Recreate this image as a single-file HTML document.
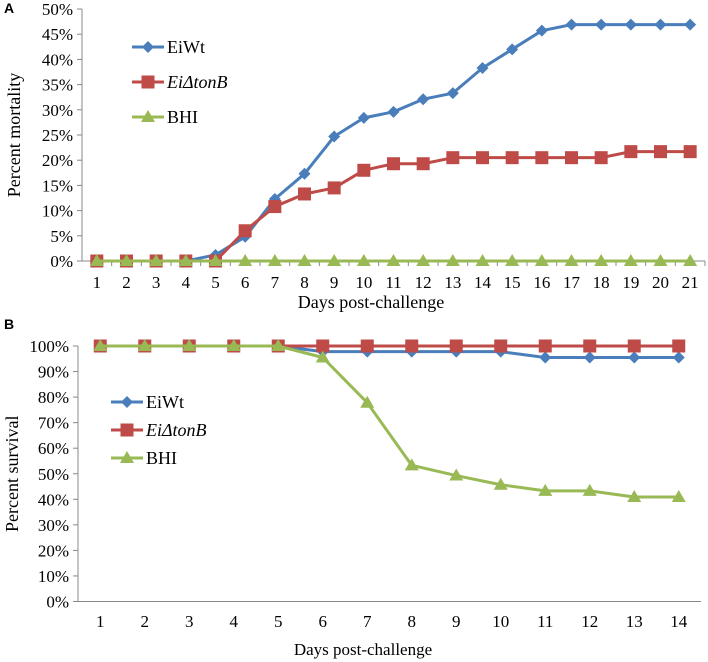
<!DOCTYPE html>
<html><head><meta charset="utf-8"><style>
body{margin:0;background:#fff}
svg{display:block;font-family:"Liberation Serif",serif}
</style></head><body>
<svg id="chart" width="708" height="662"></svg>
<script>
const daysA=[1,2,3,4,5,6,7,8,9,10,11,12,13,14,15,16,17,18,19,20,21];
const wtA=[0,0,0,0,1.2,4.8,12.3,17.3,24.7,28.4,29.6,32.1,33.3,38.3,42,45.7,46.9,46.9,46.9,46.9,46.9];
const tonA=[0,0,0,0,0,6,10.8,13.3,14.5,18,19.3,19.3,20.5,20.5,20.5,20.5,20.5,20.5,21.7,21.7,21.7];
const bhiA=[0,0,0,0,0,0,0,0,0,0,0,0,0,0,0,0,0,0,0,0,0];
const ticksA=[0,5,10,15,20,25,30,35,40,45,50];
const daysB=[1,2,3,4,5,6,7,8,9,10,11,12,13,14];
const wtB=[100,100,100,100,100,97.8,97.8,97.8,97.8,97.8,95.5,95.5,95.5,95.5];
const tonB=[100,100,100,100,100,100,100,100,100,100,100,100,100,100];
const bhiB=[100,100,100,100,100,95.5,77.8,53.3,49.3,45.7,43.3,43.3,40.9,40.9];
const ticksB=[0,10,20,30,40,50,60,70,80,90,100];
const seriesNames=["EiWt","EiΔtonB","BHI"];
const colors=["#4a7ebb","#be4b48","#98b954"];

const svg=document.getElementById('chart');
const NS='http://www.w3.org/2000/svg';
function el(tag,attrs,parent){const e=document.createElementNS(NS,tag);for(const k in attrs)e.setAttribute(k,attrs[k]);(parent||svg).appendChild(e);return e;}
function marker(type,x,y,c,g){
  let m;
  if(type===0){m=el('polygon',{points:`${x},${y-6} ${x+6},${y} ${x},${y+6} ${x-6},${y}`,fill:c},g);}
  else if(type===1){m=el('rect',{x:x-6.5,y:y-6.5,width:13,height:13,fill:c},g);}
  else {m=el('polygon',{points:`${x},${y-7} ${x+7},${y+5} ${x-7},${y+5}`,fill:c},g);}
  return m;
}
function panel(cfg){
  const {x0,x1,y0,yTop,max,ticks,days,series,label,ylabel,letter,lx,ly,lgap,xtitleX,xtitleY,xtitleSize,tickMarks,ytitleX,xlabY}=cfg;
  const step=(x1-x0)/days.length;
  const X=i=>x0+(i+0.5)*step;
  const Y=v=>y0-(v/max)*(y0-yTop);
  const g=el('g',{});
  
  
  const lt=el('text',{x:4,y:letter[1],'font-family':'Liberation Sans,sans-serif','font-weight':'bold','font-size':14},g);lt.textContent=letter[0];
  
  el('line',{x1:x0,y1:yTop,x2:x0,y2:y0,stroke:'#888'},g);
  el('line',{x1:x0,y1:y0,x2:x1,y2:y0,stroke:'#888'},g);
  ticks.forEach(t=>{
    const y=Y(t);
    el('line',{x1:x0-5,y1:y,x2:x0,y2:y,stroke:'#888'},g);
    const tx=el('text',{x:x0-9,y:y+6,'text-anchor':'end','font-size':17},g);tx.textContent=t+'%';
    
  });
  days.forEach((d,i)=>{
    if(tickMarks) el('line',{x1:x0+(i+1)*step,y1:y0,x2:x0+(i+1)*step,y2:y0+5,stroke:'#888'},g);
    const tx=el('text',{x:X(i),y:xlabY,'text-anchor':'middle','font-size':17},g);tx.textContent=d;
    
  });
  const xt=el('text',{x:xtitleX,y:xtitleY,'text-anchor':'middle','font-size':xtitleSize},g);xt.textContent='Days post-challenge';
  
  const yt=el('text',{x:0,y:0,'text-anchor':'middle','font-size':18,transform:`translate(${ytitleX},${(y0+yTop)/2}) rotate(-90)`},g);yt.textContent=ylabel;
  
  series.forEach((s,si)=>{
    const sg=el('g',{},g);
    
    
    el('polyline',{points:s.map((v,i)=>X(i)+','+Y(v)).join(' '),fill:'none',stroke:colors[si],'stroke-width':3,'stroke-linejoin':'round'},sg);
    s.forEach((v,i)=>{const m=marker(si,X(i),Y(v),colors[si],sg);});
  });
  seriesNames.forEach((n,si)=>{
    const lg=el('g',{},g);
    
    
    const y=ly+si*lgap;
    el('line',{x1:lx,y1:y,x2:lx+32,y2:y,stroke:colors[si],'stroke-width':3},lg);
    marker(si,lx+16,y,colors[si],lg);
    const t=el('text',{x:lx+35,y:y+6,'font-size':18,'font-style':si===1?'italic':'normal'},lg);t.textContent=n;
  });
}
panel({x0:82,x1:705,y0:261,yTop:9,max:50,ticks:ticksA,days:daysA,series:[wtA,tonA,bhiA],label:'mortality',ylabel:'Percent mortality',letter:['A',13],lx:132,ly:47,lgap:35,xtitleX:371,xtitleY:308,xtitleSize:18,xlabY:288,tickMarks:true,ytitleX:20});
panel({x0:78,x1:701,y0:601.5,yTop:346,max:100,ticks:ticksB,days:daysB,series:[wtB,tonB,bhiB],label:'survival',ylabel:'Percent  survival',letter:['B',329],lx:111,ly:402,lgap:28,xtitleX:363,xtitleY:655,xtitleSize:17,xlabY:627,tickMarks:false,ytitleX:18});
</script>
</body></html>
